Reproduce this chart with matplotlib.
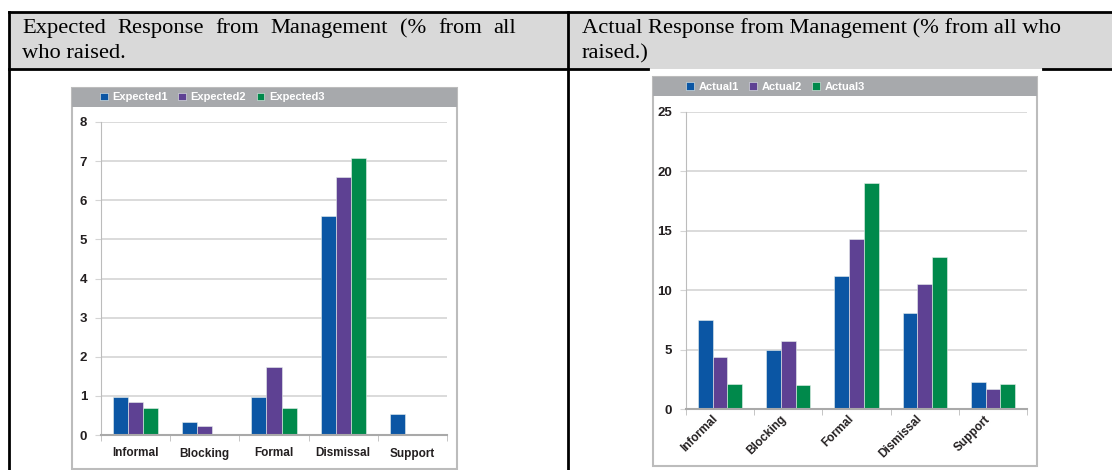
import numpy as np
import matplotlib.pyplot as plt
from matplotlib.patches import Rectangle
from matplotlib.lines import Line2D

# Data
categories = ['Informal', 'Blocking', 'Formal', 'Dismissal', 'Support']
expected1 = [0.96, 0.34, 0.96, 5.6, 0.53]
expected2 = [0.85, 0.22, 1.73, 6.6, 0.0]
expected3 = [0.70, 0.0, 0.70, 7.08, 0.0]
actual1 = [7.5, 4.97, 11.2, 8.05, 2.25]
actual2 = [4.38, 5.72, 14.3, 10.5, 1.68]
actual3 = [2.08, 2.0, 19.05, 12.82, 2.1]

colors = ['#0b56a4', '#5e4193', '#00894b']
band_col = '#a7a9ac'
frame_col = '#bcbcbc'
grid_col = '#d4d4d4'
text_col = '#231f20'
chart_font = ['Liberation Sans', 'DejaVu Sans']
head_size = 16.2

W, H = 1112, 470
fig = plt.figure(figsize=(W / 100, H / 100), dpi=100)


def rect(x0, y0, x1, y1):
    # pixel box (top-left origin) -> figure fraction [l, b, w, h]
    return [x0 / W, 1 - y1 / H, (x1 - x0) / W, (y1 - y0) / H]


def fline(x0, y0, x1, y1, lw=2.0):
    fig.add_artist(Line2D([x0 / W, x1 / W], [1 - y0 / H, 1 - y1 / H],
                          transform=fig.transFigure, color='black', lw=lw,
                          zorder=-1))


def fbox(x0, y0, x1, y1, **kw):
    l, b, w, h = rect(x0, y0, x1, y1)
    fig.add_artist(Rectangle((l, b), w, h, transform=fig.transFigure, **kw))


def head(x, y, s):
    return fig.text(x / W, 1 - y / H, s, family='Liberation Serif',
                    fontsize=head_size, color='black', va='baseline')


def head_justified(x0, x1, y, s):
    # word-spread line like a justified table cell
    renderer = fig.canvas.get_renderer()
    words = s.split()
    texts = [head(x0, y, w) for w in words]
    widths = [t.get_window_extent(renderer).width for t in texts]
    gap = (x1 - x0 - sum(widths)) / (len(words) - 1)
    xx = x0
    for t, wd in zip(texts, widths):
        t.set_x(xx / W)
        xx += wd + gap


# table header
fbox(9, 12, 1112, 69, facecolor='#d9d9d9', edgecolor='none', zorder=-3)
fline(9, 12, 1112, 12)
fline(9, 69, 648, 69)
fline(1043, 69, 1112, 69)
fline(9, 12, 9, 470)
fline(568, 12, 568, 470)

head_justified(22, 516, 33, 'Expected Response from Management (% from all')
head(22, 58, 'who raised.')
head(582, 33, 'Actual Response from Management (% from all who')
head(582, 58, 'raised.)')


def chart(frame, band_h, axbox, vals, labels, ymax, ystep, rotate, legend_x):
    fx0, fy0, fx1, fy1 = frame
    fbox(fx0, fy0, fx1, fy1, facecolor='white', edgecolor=frame_col, lw=1.5, zorder=-2)
    fbox(fx0, fy0, fx1, fy0 + band_h, facecolor=band_col, edgecolor='none', zorder=-1)

    ax = fig.add_axes(rect(*axbox))
    ax.set_facecolor('none')
    x = np.arange(len(categories))
    w = 0.217
    handles = []
    for i, (v, c) in enumerate(zip(vals, colors)):
        b = ax.bar(x + (i - 1) * w, v, width=w, color=c, edgecolor='#e8f0ec',
                   linewidth=0.4, zorder=3)
        handles.append(b)

    ax.set_xlim(-0.5, len(categories) - 0.5)
    ax.set_ylim(0, ymax)
    ax.set_yticks(np.arange(0, ymax + 0.1, ystep))
    ax.yaxis.grid(True, color=grid_col, lw=1.2, zorder=0)
    for s in ['top', 'right']:
        ax.spines[s].set_visible(False)
    ax.spines['left'].set_color(frame_col)
    ax.spines['bottom'].set_color('#a9a9a9')
    ax.spines['bottom'].set_linewidth(1.5)
    ax.spines['bottom'].set_zorder(4)

    ax.set_xticks(x)
    ax.set_xticks(np.arange(-0.5, len(categories)), minor=True)
    ax.tick_params(axis='x', which='major', length=0)
    ax.tick_params(axis='x', which='minor', length=4, color=frame_col)
    ax.tick_params(axis='y', length=4, color=grid_col, pad=6)
    if rotate:
        ax.set_xticklabels(categories, rotation=45, ha='right',
                           family=chart_font, fontweight='bold',
                           fontsize=8.5, color=text_col)
        ax.tick_params(axis='x', which='major', pad=3)
    else:
        ax.set_xticklabels(categories, family=chart_font, fontweight='bold',
                           fontsize=8.5, color=text_col)
        ax.tick_params(axis='x', which='major', pad=9)
    for t in ax.get_yticklabels():
        t.set_family(chart_font)
        t.set_fontweight('bold')
        t.set_fontsize(9.5)
        t.set_color(text_col)

    ax.legend(handles, labels, loc='center left',
              bbox_to_anchor=(legend_x / W, 1 - (fy0 + band_h / 2) / H),
              bbox_transform=fig.transFigure, ncol=3, frameon=False,
              handlelength=0.7, handleheight=0.7, handletextpad=0.4,
              columnspacing=0.95, borderpad=0, borderaxespad=0,
              labelcolor='white',
              prop={'family': chart_font, 'weight': 'bold', 'size': 8})
    return ax


chart((72, 88, 457, 469), 19, (101, 122, 447, 435),
      [expected1, expected2, expected3], ['Expected1', 'Expected2', 'Expected3'],
      8, 1, False, 100)
chart((653, 77, 1037, 466), 19, (686, 112, 1027, 409),
      [actual1, actual2, actual3], ['Actual1', 'Actual2', 'Actual3'],
      25, 5, True, 686)

fig.savefig('out.png', dpi=100)
